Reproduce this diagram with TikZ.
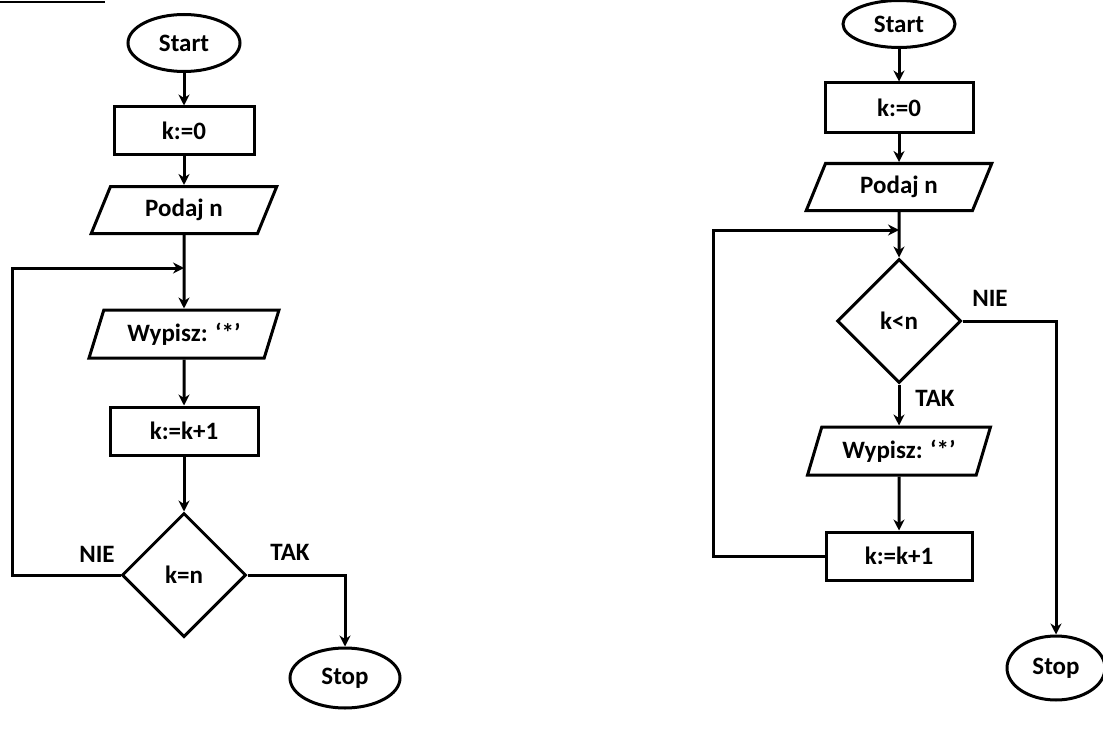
\documentclass[tikz,border=0pt]{standalone}
\usepackage{fontspec}
\setmainfont{Carlito}
\usetikzlibrary{shapes.geometric,arrows.meta}

\begin{document}
\begin{tikzpicture}[x=1pt, y=-1pt,
    every node/.style={font=\fontsize{25}{30}\selectfont\bfseries},
    line/.style={line width=3pt},
    flow/.style={line, -{Stealth[length=11pt,width=11pt]}},
    term/.style={ellipse, draw, line, inner sep=0pt},
    box/.style={rectangle, draw, line, minimum width=146pt, minimum height=48pt},
    io/.style={trapezium, trapezium left angle=65, trapezium right angle=115,
               trapezium stretches=true, draw, line, inner sep=0pt,
               minimum width=186pt, minimum height=47pt},
    test/.style={diamond, draw, line, inner sep=0pt, minimum width=124pt, minimum height=124pt},
    lbl/.style={inner sep=0pt}]
  \useasboundingbox (0,0) rectangle (1103,733);
  \draw[line width=2pt] (0,2) -- (105,2);

  % left chart
  \node[term, minimum width=112pt, minimum height=57pt] (startA) at (184,43) {Start};
  \node[box, minimum width=140pt] (zeroA) at (184,131) {k:=0};
  \node[io] (readA) at (184,210) {Podaj n};
  \coordinate (joinA) at (184,268);
  \node[io, minimum width=190pt, minimum height=48pt] (printA) at (184,334) {Wypisz: ‘*’};
  \node[box, minimum width=148pt] (incA) at (184,431) {k:=k+1};
  \node[test] (condA) at (184,575) {k=n};
  \node[term, minimum width=110pt, minimum height=60pt] (stopA) at (345,678) {Stop};
  \node[lbl] (nieA) at (97,554) {NIE};
  \node[lbl] (takA) at (290,552) {TAK};

  \draw[flow] (startA) -- (zeroA);
  \draw[flow] (zeroA) -- (readA);
  \draw[flow] (readA) -- (printA);
  \draw[flow] (printA) -- (incA);
  \draw[flow] (incA) -- (condA);
  \draw[flow] (condA.west) -- (12,575) -- (12,268) -- (joinA);
  \draw[flow] (condA.east) -| (stopA.north);

  % right chart
  \node[term, minimum width=112pt, minimum height=47pt] (startB) at (899,24) {Start};
  \node[box, minimum width=148pt, minimum height=50pt] (zeroB) at (899,108) {k:=0};
  \node[io] (readB) at (899,187) {Podaj n};
  \coordinate (joinB) at (899,230);
  \node[test] (condB) at (899,321) {k<n};
  \node[io, minimum width=183pt, minimum height=48pt] (printB) at (899,451) {Wypisz: ‘*’};
  \node[box] (incB) at (899,556) {k:=k+1};
  \node[term, minimum width=98pt, minimum height=64pt] (stopB) at (1056,668) {Stop};
  \node[lbl] (nieB) at (990,298) {NIE};
  \node[lbl] (takB) at (935,398) {TAK};

  \draw[flow] (startB) -- (zeroB);
  \draw[flow] (zeroB) -- (readB);
  \draw[flow] (readB) -- (condB);
  \draw[flow] (condB) -- (printB);
  \draw[flow] (printB) -- (incB);
  \draw[flow] (incB.west) -- (713,556) -- (713,230) -- (joinB);
  \draw[flow] (condB.east) -| (stopB.north);
\end{tikzpicture}
\end{document}
